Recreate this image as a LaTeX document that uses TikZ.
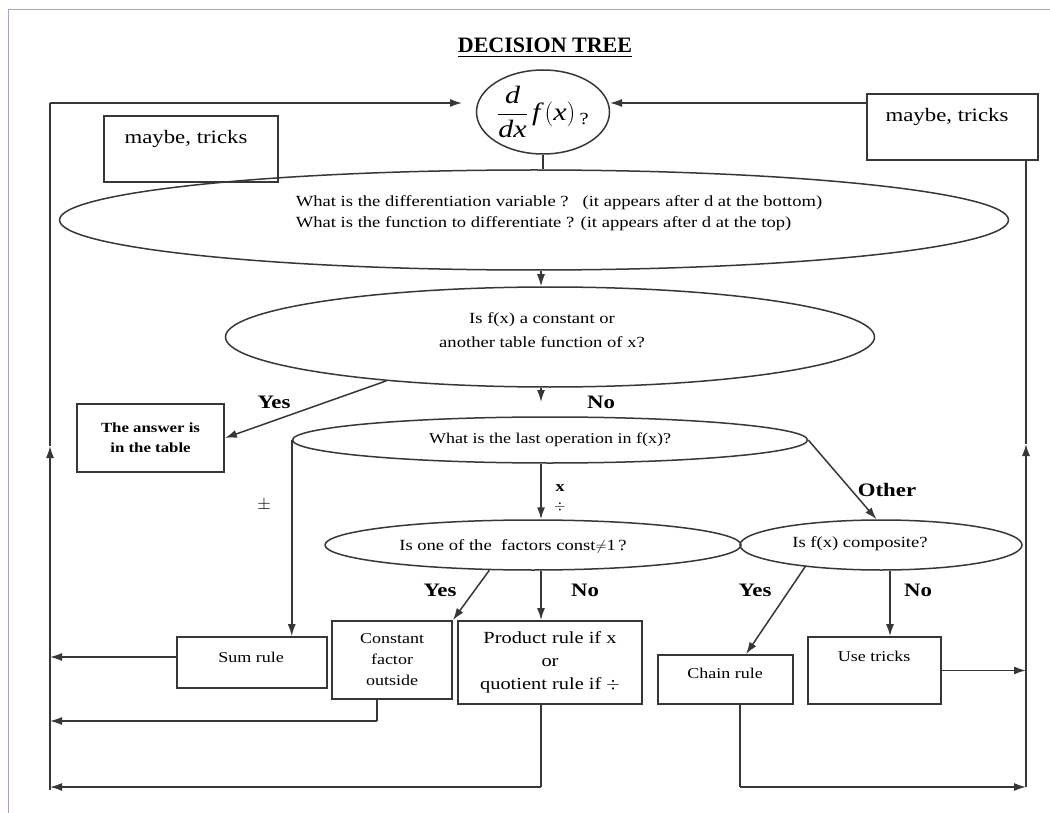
\documentclass[tikz,border=0pt]{standalone}
\usepackage{fontspec}
\setmainfont[FakeStretch=1.2]{Liberation Serif}
\newfontfamily\titlefont{Liberation Serif}
\usepackage{amsmath}
\usepackage{amssymb}
\usepackage{tikz}
\usetikzlibrary{arrows.meta,shapes.geometric}

\definecolor{framecol}{RGB}{160,164,204}
\definecolor{inkcol}{RGB}{55,55,55}

\begin{document}
\begin{tikzpicture}[x=1pt,y=-1pt]
\tikzset{question/.style = {shape=ellipse,draw=inkcol,line width=1.5pt,inner sep=0pt,align=center}}
\tikzset{rulebox/.style = {shape=rectangle,draw=inkcol,line width=1.8pt,inner sep=0pt,align=center}}
\tikzset{edge/.style = {->,> = {Latex[length=12pt,width=8pt]},line width=1.5pt,draw=inkcol}}
\tikzset{line/.style = {-,line width=1.5pt,draw=inkcol}}
\tikzset{reply/.style = {font=\bfseries\fontsize{19}{21}\selectfont}}
\tikzset{asks/.style = {align=center,font=\fontsize{15.5}{24}\selectfont}}

\useasboundingbox (0,0) rectangle (1050,813);
\draw[framecol,line width=1pt] (8.5,813) -- (8.5,9.5) -- (1050,9.5);

\node[font=\titlefont\bfseries\fontsize{22}{24}\selectfont] (title) at (545,48) {\underline{DECISION TREE}};

% questions
\node[question,minimum width=133,minimum height=84,font=\fontsize{25}{28}\selectfont] (ddx) at (543,112)
  {$\dfrac{\textit{d}}{\textit{dx}}\,\textit{f}\,(\textit{x})$\,\raisebox{-4pt}{\fontsize{17}{17}\selectfont ?}};
\node[question,minimum width=949,minimum height=100] (vars) at (534,220) {};
\node[align=left,font=\fontsize{15.5}{21}\selectfont] (varstext) at (559,213)
  {What is the differentiation variable ?\ \ \ (it appears after d at the bottom)\\
   What is the function to differentiate ? (it appears after d at the top)};
\node[question,minimum width=649,minimum height=100] (table) at (550,337) {};
\node[asks] (tabletext) at (542,330) {Is f(x) a constant or\\another table function of x?};
\node[question,minimum width=515,minimum height=46,font=\fontsize{15}{17}\selectfont] (lastop) at (550,440)
  {What is the last operation in f(x)?};
\node[question,minimum width=416,minimum height=50] (factor) at (533,545) {};
\node[asks] (factortext) at (513,546) {Is one of the \ factors const$\neq$1\,?};
\node[question,minimum width=282,minimum height=50] (comp) at (881,545) {};
\node[asks] (comptext) at (860,544) {Is f(x) composite?};

% boxes
\node[rulebox,minimum width=174,minimum height=66] (trickL) at (191,149) {};
\node[font=\fontsize{19}{22}\selectfont] (trickLtext) at (186,139) {maybe, tricks};
\node[rulebox,minimum width=171,minimum height=66] (trickR) at (952.5,127) {};
\node[font=\fontsize{19}{22}\selectfont] (trickRtext) at (947,117) {maybe, tricks};
\node[rulebox,minimum width=147,minimum height=68,font=\bfseries\fontsize{14}{20}\selectfont] (answer) at (150.5,438)
  {The answer is\\in the table};
\node[rulebox,minimum width=150,minimum height=51] (sum) at (252,662.5) {};
\node[font=\fontsize{15}{18}\selectfont] (sumtext) at (251,657) {Sum rule};
\node[rulebox,minimum width=120,minimum height=78,font=\fontsize{15}{21}\selectfont] (const) at (392,660)
  {Constant\\factor\\outside};
\node[rulebox,minimum width=184,minimum height=83,font=\fontsize{17}{23}\selectfont] (prod) at (550,662.5)
  {Product rule if x\\or\\quotient rule if $\div$};
\node[rulebox,minimum width=135,minimum height=49] (chain) at (725.5,679.5) {};
\node[font=\fontsize{15}{18}\selectfont] (chaintext) at (725,673) {Chain rule};
\node[rulebox,minimum width=133,minimum height=67] (tricks) at (874.5,670.5) {};
\node[font=\fontsize{15}{18}\selectfont] (trickstext) at (874,656) {Use tricks};

% bends
\coordinate (spine) at (541,0);
\coordinate (leftline) at (50,0);
\coordinate (rightline) at (1026,0);
\coordinate (ltop) at (50,103);
\coordinate (lmid) at (50,446);
\coordinate (lbot) at (50,790);
\coordinate (lin) at (462,103);
\coordinate (rmid) at (1026,444);
\coordinate (rbot) at (1026,787);
\coordinate (rin) at (610,103);
\coordinate (noend) at (541,402);
\coordinate (cbend) at (377,721);
\coordinate (pbend) at (541,787);
\coordinate (chbend) at (740,787);

\draw[line] (ddx.south) to (ddx.south |- vars.north);
\draw[edge] (spine |- vars.south) to (spine |- table.north);
\draw[edge] (spine |- table.south) to (noend);
\draw[edge] (table.195) to (answer.east);
\draw[edge] (spine |- lastop.south) to (spine |- factor.north);
\draw[edge] (lastop.west) to (lastop.west |- sum.north);
\draw[edge] (lastop.east) to (comp.100);
\draw[edge] (factor.210) to (const.north east);
\draw[edge] (spine |- factor.south) to (spine |- prod.north);
\draw[edge] (comp.196) to (chain.51);
\draw[edge] ([xshift=9]comp.south) to ([xshift=9]comp.south |- tricks.north);

% returns
\draw[edge] (sum.west |- sumtext) to (sumtext -| leftline);
\draw[line] (const.south -| cbend) to (cbend);
\draw[edge] (cbend) to (cbend -| leftline);
\draw[line] (prod.south -| pbend) to (pbend);
\draw[edge] (pbend) to (pbend -| leftline);
\draw[line] (chain.south -| chbend) to (chbend);
\draw[edge] (chbend) to (chbend -| rightline);
\draw[edge] (tricks.east) to (tricks.east -| rightline);
\draw[edge] (lbot) to (lmid);
\draw[line] (lmid) to (ltop);
\draw[edge] (ltop) to (lin);
\draw[edge] (rbot) to (rmid);
\draw[line] (rmid) to (rmid |- trickR.south);
\draw[edge] (trickR.west |- ltop) to (rin);

% labels
\node[reply] (yes1) at (274,402) {Yes};
\node[reply] (no1) at (601,402) {No};
\node[font=\fontsize{17}{18}\selectfont] (pm) at (264,505) {$\pm$};
\node[font=\bfseries\fontsize{15}{16}\selectfont] (times) at (560,488) {x};
\node[font=\bfseries\fontsize{15}{16}\selectfont] (divide) at (560,507) {$\div$};
\node[reply] (other) at (887,490) {Other};
\node[reply] (yes2) at (440,590) {Yes};
\node[reply] (no2) at (585,590) {No};
\node[reply] (yes3) at (755,590) {Yes};
\node[reply] (no3) at (918,590) {No};

\end{tikzpicture}
\end{document}
